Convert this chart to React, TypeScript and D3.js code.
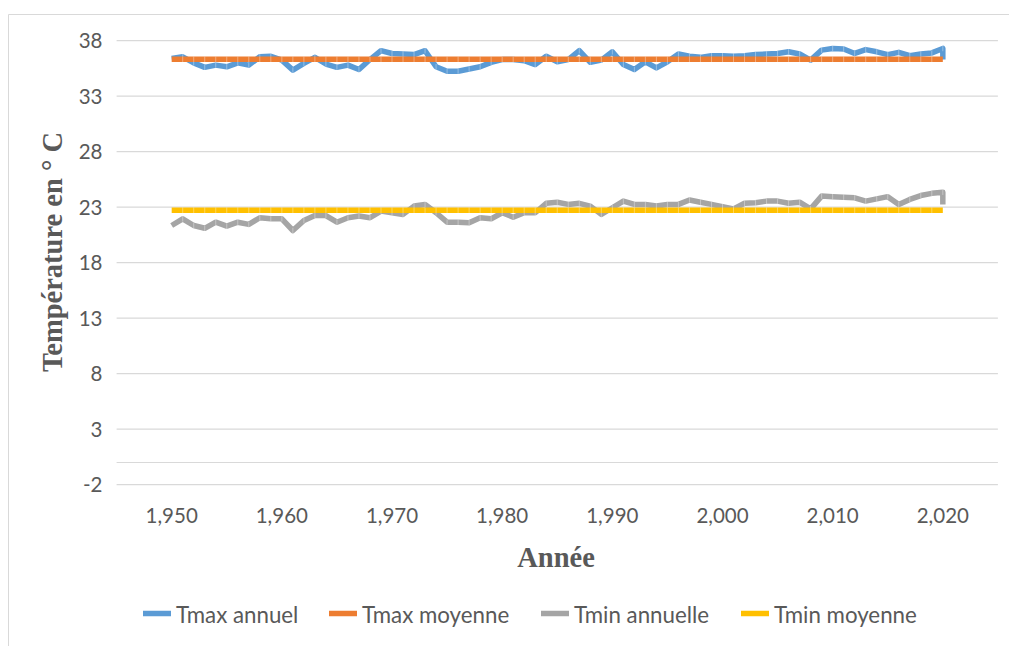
import React from "react";
import * as d3 from "d3";

// Annual series (the record ends with two readings for 2020)
const years = [
  1950, 1951, 1952, 1953, 1954, 1955, 1956, 1957, 1958, 1959,
  1960, 1961, 1962, 1963, 1964, 1965, 1966, 1967, 1968, 1969,
  1970, 1971, 1972, 1973, 1974, 1975, 1976, 1977, 1978, 1979,
  1980, 1981, 1982, 1983, 1984, 1985, 1986, 1987, 1988, 1989,
  1990, 1991, 1992, 1993, 1994, 1995, 1996, 1997, 1998, 1999,
  2000, 2001, 2002, 2003, 2004, 2005, 2006, 2007, 2008, 2009,
  2010, 2011, 2012, 2013, 2014, 2015, 2016, 2017, 2018, 2019,
  2020, 2020,
];

const tmaxAnnuel = [
  36.4, 36.55, 36.0, 35.6, 35.8, 35.65, 36.0, 35.8, 36.55, 36.6,
  36.25, 35.35, 35.95, 36.5, 35.9, 35.6, 35.8, 35.4, 36.3, 37.1,
  36.85, 36.8, 36.75, 37.1, 35.65, 35.25, 35.25, 35.45, 35.65, 36.05,
  36.3, 36.3, 36.2, 35.85, 36.6, 36.1, 36.3, 37.1, 36.05, 36.25,
  37.0, 35.85, 35.4, 36.1, 35.55, 36.1, 36.8, 36.6, 36.5, 36.65,
  36.65, 36.6, 36.65, 36.75, 36.8, 36.85, 37.0, 36.8, 36.25, 37.15,
  37.3, 37.25, 36.85, 37.2, 37.0, 36.75, 36.95, 36.65, 36.8, 36.9,
  37.3, 36.3,
];

const tminAnnuelle = [
  21.35, 21.95, 21.35, 21.1, 21.65, 21.3, 21.65, 21.45, 22.05, 21.95,
  21.95, 20.9, 21.8, 22.25, 22.25, 21.65, 22.05, 22.2, 22.05, 22.65,
  22.5, 22.35, 23.1, 23.25, 22.5, 21.65, 21.65, 21.6, 22.05, 21.95,
  22.5, 22.1, 22.5, 22.5, 23.35, 23.45, 23.25, 23.35, 23.1, 22.35,
  22.95, 23.55, 23.25, 23.25, 23.1, 23.25, 23.25, 23.65, 23.45, 23.25,
  23.05, 22.85, 23.35, 23.4, 23.55, 23.55, 23.35, 23.45, 22.85, 24.0,
  23.95, 23.9, 23.85, 23.55, 23.75, 23.95, 23.25, 23.7, 24.05, 24.25,
  24.35, 23.25,
];

// Long-term means drawn across 1950–2020
const meanYears = years.slice(0, 71);
const tmaxMoyenne = 36.32;
const tminMoyenne = 22.73;

const yTicks = [-2, 3, 8, 13, 18, 23, 28, 33, 38];
const xTicks = [1950, 1960, 1970, 1980, 1990, 2000, 2010, 2020];

const legendItems = [
  { label: "Tmax annuel", color: "#5B9BD5", x: 143 },
  { label: "Tmax moyenne", color: "#ED7D31", x: 329 },
  { label: "Tmin annuelle", color: "#A5A5A5", x: 541 },
  { label: "Tmin moyenne", color: "#FFC000", x: 741 },
];

const W = 1009;
const H = 646;
const plot = { left: 116.6, right: 997.9, top: 40.7, bottom: 484.7 };

const tickFont = "Lato, 'Open Sans', sans-serif";
const titleFont = "'Liberation Serif', 'DejaVu Serif', serif";
const textColor = "#595959";
const gridColor = "#D9D9D9";

export default function App() {
  const x = d3.scaleLinear().domain([1945, 2025]).range([plot.left, plot.right]);
  const y = d3.scaleLinear().domain([-2, 38]).range([plot.bottom, plot.top]);

  const line = d3
    .line<[number, number]>()
    .x((d) => x(d[0]))
    .y((d) => y(d[1]));

  const tmaxPts: [number, number][] = years.map((yr, i) => [yr, tmaxAnnuel[i]]);
  const tminPts: [number, number][] = years.map((yr, i) => [yr, tminAnnuelle[i]]);
  const tmaxMeanPts: [number, number][] = meanYears.map((yr) => [yr, tmaxMoyenne]);
  const tminMeanPts: [number, number][] = meanYears.map((yr) => [yr, tminMoyenne]);

  const lw = 5.5;

  // faint separators at each data point along a series
  const separators = (pts: [number, number][], key: string) =>
    pts.slice(1, -1).map((p, i) => (
      <line
        key={`${key}-${i}`}
        x1={x(p[0])}
        x2={x(p[0])}
        y1={y(p[1]) - lw / 2}
        y2={y(p[1]) + lw / 2}
        stroke="#ffffff"
        strokeOpacity={0.45}
        strokeWidth={0.8}
      />
    ));

  return (
    <svg
      width={W}
      height={H}
      style={{ position: "absolute", left: 0, top: 0, background: "#fff" }}
    >
      {/* chart frame */}
      <line x1={8.5} x2={W} y1={14.5} y2={14.5} stroke={gridColor} strokeWidth={1} />
      <line x1={8.5} x2={8.5} y1={14.5} y2={H} stroke={gridColor} strokeWidth={1} />

      {/* gridlines */}
      {yTicks.map((t) => (
        <line
          key={`g${t}`}
          x1={plot.left}
          x2={plot.right}
          y1={y(t)}
          y2={y(t)}
          stroke={gridColor}
          strokeWidth={1.2}
        />
      ))}
      {/* horizontal axis at zero */}
      <line x1={plot.left} x2={plot.right} y1={y(0)} y2={y(0)} stroke={gridColor} strokeWidth={1.2} />

      {/* y tick labels */}
      {yTicks.map((t) => (
        <text
          key={`yt${t}`}
          x={102.5}
          y={y(t)}
          dy="0.36em"
          textAnchor="end"
          fontFamily={tickFont}
          fontSize={20.5}
          fill={textColor}
        >
          {t}
        </text>
      ))}

      {/* x tick labels */}
      {xTicks.map((t) => (
        <text
          key={`xt${t}`}
          x={x(t)}
          y={523}
          textAnchor="middle"
          fontFamily={tickFont}
          fontSize={20.5}
          fill={textColor}
        >
          {d3.format(",")(t)}
        </text>
      ))}

      {/* series */}
      <path d={line(tmaxPts) || ""} fill="none" stroke="#5B9BD5" strokeWidth={lw} strokeLinejoin="round" />
      {separators(tmaxPts, "a")}
      <path d={line(tmaxMeanPts) || ""} fill="none" stroke="#ED7D31" strokeWidth={lw} />
      {separators(tmaxMeanPts, "b")}
      <path d={line(tminPts) || ""} fill="none" stroke="#A5A5A5" strokeWidth={lw} strokeLinejoin="round" />
      {separators(tminPts, "c")}
      <path d={line(tminMeanPts) || ""} fill="none" stroke="#FFC000" strokeWidth={lw} />
      {separators(tminMeanPts, "d")}

      {/* axis titles */}
      <text
        x={556}
        y={567}
        textAnchor="middle"
        fontFamily={titleFont}
        fontWeight="bold"
        fontSize={28.5}
        fill={textColor}
      >
        Année
      </text>
      <text
        transform={`translate(62, 252) rotate(-90)`}
        textAnchor="middle"
        fontFamily={titleFont}
        fontWeight="bold"
        fontSize={28.5}
        fill={textColor}
      >
        Température en ° C
      </text>

      {/* legend */}
      {legendItems.map((it) => (
        <g key={it.label}>
          <line x1={it.x} x2={it.x + 28} y1={613.5} y2={613.5} stroke={it.color} strokeWidth={5.5} />
          <text
            x={it.x + 33}
            y={615}
            dy="0.36em"
            fontFamily={tickFont}
            fontSize={22.3}
            fill={textColor}
          >
            {it.label}
          </text>
        </g>
      ))}
    </svg>
  );
}
